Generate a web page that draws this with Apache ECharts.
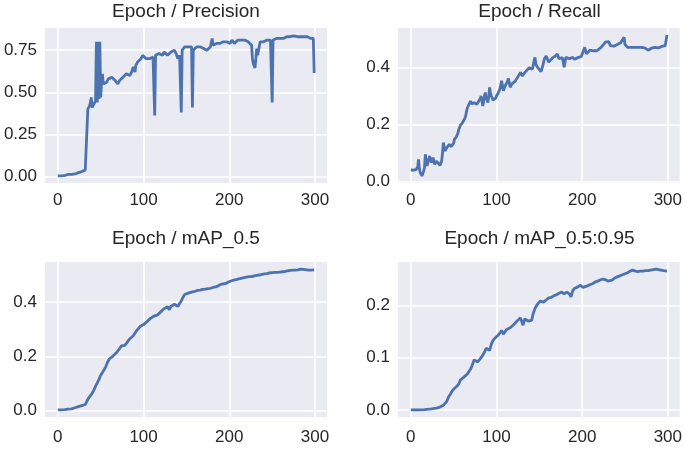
<!DOCTYPE html>
<html>
<head>
<meta charset="utf-8">
<script src="https://cdn.jsdelivr.net/npm/echarts@6/dist/echarts.min.js"></script>
<style>
html,body{margin:0;padding:0;background:#fff;}
#c{width:685px;height:450px;}
</style>
</head>
<body>
<div id="c"></div>
<script>
const titles = ['Epoch / Precision', 'Epoch / Recall', 'Epoch / mAP_0.5', 'Epoch / mAP_0.5:0.95'];
const xTicks = [0, 100, 200, 300];
const yTicksPrecision = [0, 0.25, 0.5, 0.75];
const yTicksRecall = [0, 0.2, 0.4];
const yTicksMap50 = [0, 0.2, 0.4];
const yTicksMap5095 = [0, 0.1, 0.2];

const precision = [
[0,0.004],[3,0.005],[6,0.006],[9,0.008],[12,0.013],[14,0.016],[16,0.013],[18,0.012],[20,0.016],[22,0.02],
[24,0.024],[26,0.026],[28,0.03],[30,0.034],[32,0.04],[33,0.047],[34,0.05],[35,0.40],[36,0.41],[37,0.42],
[38,0.44],[39,0.47],[40,0.41],[41,0.42],[42,0.43],[43,0.42],[44,0.45],[45,0.80],[46,0.44],[47,0.80],
[48,0.46],[49,0.80],[50,0.47],[51,0.56],[52,0.61],[53,0.55],[54,0.54],[55,0.56],[57,0.56],[59,0.58],
[61,0.58],[63,0.59],[65,0.60],[67,0.57],[69,0.56],[70,0.55],[72,0.57],[74,0.58],[76,0.59],[78,0.60],
[80,0.61],[82,0.62],[84,0.60],[86,0.62],[88,0.65],[90,0.62],[91,0.66],[93,0.68],[95,0.67],[97,0.70],
[99,0.72],[101,0.71],[103,0.70],[105,0.69],[107,0.70],[109,0.70],[111,0.71],[112,0.70],[113,0.363],[114,0.72],
[116,0.72],[118,0.73],[120,0.73],[122,0.72],[124,0.74],[126,0.73],[128,0.72],[130,0.73],[132,0.74],[134,0.74],
[136,0.75],[138,0.73],[140,0.70],[142,0.72],[143,0.73],[144,0.38],[145,0.75],[146,0.76],[148,0.77],[150,0.78],
[152,0.77],[154,0.78],[156,0.77],[157,0.41],[158,0.75],[160,0.76],[162,0.77],[164,0.76],[166,0.77],[168,0.76],
[170,0.76],[172,0.77],[174,0.75],[176,0.76],[178,0.77],[180,0.82],[181,0.78],[183,0.79],[185,0.79],[187,0.80],
[189,0.79],[191,0.80],[193,0.80],[195,0.79],[197,0.80],[199,0.80],[201,0.79],[203,0.81],[204,0.82],[206,0.79],
[208,0.80],[210,0.81],[212,0.80],[214,0.81],[216,0.80],[218,0.81],[220,0.80],[222,0.80],[224,0.80],[226,0.78],
[227,0.70],[228,0.67],[229,0.66],[230,0.645],[231,0.635],[232,0.76],[233,0.72],[234,0.73],[236,0.80],[238,0.79],
[240,0.80],[242,0.80],[244,0.81],[246,0.80],[248,0.81],[249,0.80],[250,0.44],[251,0.81],[253,0.81],[255,0.82],
[257,0.81],[259,0.82],[261,0.82],[263,0.82],[265,0.82],[267,0.83],[269,0.82],[271,0.83],[273,0.83],[275,0.835],
[277,0.84],[279,0.83],[281,0.835],[283,0.83],[285,0.83],[287,0.83],[289,0.83],[291,0.83],[293,0.83],[295,0.82],
[297,0.82],[298,0.82],[299,0.615]
];

const recall = [
[0,0.041],[1,0.038],[2,0.046],[3,0.040],[4,0.036],[5,0.034],[6,0.042],[7,0.043],[8,0.050],[9,0.078],
[10,0.045],[11,0.032],[12,0.030],[13,0.020],[14,0.028],[15,0.037],[16,0.050],[17,0.096],[18,0.070],[19,0.055],
[20,0.068],[21,0.080],[22,0.090],[23,0.075],[24,0.067],[25,0.072],[26,0.084],[27,0.070],[28,0.061],[29,0.066],
[30,0.072],[31,0.078],[32,0.065],[33,0.060],[34,0.057],[35,0.064],[36,0.072],[37,0.100],[38,0.137],[39,0.120],
[40,0.108],[41,0.112],[42,0.119],[43,0.115],[44,0.125],[45,0.131],[46,0.126],[47,0.122],[48,0.128],[49,0.125],
[50,0.135],[51,0.149],[52,0.150],[53,0.156],[54,0.160],[55,0.170],[56,0.183],[57,0.190],[58,0.198],[59,0.202],
[60,0.205],[61,0.207],[62,0.215],[63,0.222],[64,0.230],[65,0.245],[66,0.258],[67,0.265],[68,0.272],[69,0.277],
[70,0.282],[71,0.272],[72,0.275],[73,0.268],[74,0.276],[75,0.270],[76,0.278],[77,0.271],[78,0.276],[79,0.280],
[80,0.283],[81,0.290],[82,0.300],[83,0.284],[84,0.265],[85,0.280],[86,0.300],[87,0.312],[88,0.295],[89,0.285],
[90,0.277],[91,0.300],[92,0.330],[93,0.310],[94,0.300],[95,0.295],[96,0.285],[97,0.290],[98,0.283],[99,0.292],
[100,0.300],[102,0.310],[104,0.324],[106,0.353],[108,0.318],[110,0.335],[112,0.345],[114,0.361],[116,0.330],[118,0.342],
[120,0.345],[122,0.352],[124,0.356],[126,0.372],[128,0.382],[130,0.370],[132,0.376],[134,0.385],[136,0.388],[138,0.398],
[140,0.400],[142,0.394],[144,0.425],[145,0.435],[146,0.410],[148,0.400],[150,0.403],[152,0.385],[154,0.405],[156,0.430],
[158,0.440],[159,0.443],[161,0.418],[163,0.425],[165,0.432],[167,0.437],[169,0.440],[171,0.447],[173,0.430],[175,0.436],
[177,0.434],[179,0.400],[181,0.435],[183,0.432],[185,0.430],[187,0.436],[189,0.435],[191,0.428],[193,0.430],[195,0.434],
[197,0.435],[199,0.438],[201,0.441],[203,0.470],[205,0.447],[207,0.450],[209,0.460],[211,0.464],[213,0.458],[215,0.462],
[217,0.458],[219,0.463],[221,0.467],[223,0.470],[225,0.480],[227,0.488],[229,0.492],[231,0.490],[233,0.476],[235,0.480],
[237,0.474],[239,0.478],[241,0.480],[243,0.482],[245,0.486],[247,0.490],[249,0.505],[250,0.480],[251,0.474],[253,0.470],
[255,0.467],[257,0.470],[259,0.472],[261,0.470],[263,0.468],[265,0.470],[267,0.467],[269,0.470],[271,0.469],[273,0.468],
[275,0.465],[277,0.460],[279,0.466],[281,0.467],[283,0.465],[285,0.470],[287,0.472],[289,0.468],[291,0.474],[293,0.473],
[295,0.476],[297,0.476],[298,0.478],[299,0.513]
];

const map50 = [
[0,0.002],[4,0.002],[8,0.003],[12,0.005],[16,0.006],[20,0.010],[24,0.014],[28,0.018],[30,0.019],[32,0.022],
[34,0.035],[36,0.046],[38,0.055],[40,0.063],[42,0.075],[44,0.090],[46,0.102],[48,0.115],[50,0.130],[52,0.140],
[54,0.150],[56,0.162],[58,0.178],[60,0.190],[62,0.196],[64,0.200],[66,0.205],[68,0.212],[70,0.220],[72,0.228],
[74,0.238],[76,0.242],[78,0.240],[80,0.248],[82,0.255],[84,0.265],[86,0.262],[88,0.276],[90,0.282],[92,0.295],
[94,0.300],[96,0.310],[98,0.313],[100,0.317],[102,0.322],[104,0.328],[106,0.333],[108,0.340],[110,0.342],[112,0.348],
[114,0.350],[116,0.352],[118,0.358],[120,0.364],[122,0.368],[124,0.376],[126,0.380],[128,0.383],[130,0.372],[132,0.385],
[134,0.388],[136,0.392],[138,0.386],[140,0.384],[142,0.395],[144,0.404],[146,0.418],[148,0.428],[150,0.430],[152,0.433],
[154,0.436],[157,0.438],[160,0.440],[163,0.443],[166,0.444],[169,0.447],[172,0.448],[175,0.450],[178,0.451],[181,0.454],
[184,0.456],[187,0.460],[190,0.465],[193,0.467],[196,0.469],[199,0.474],[202,0.478],[205,0.481],[208,0.483],[211,0.486],
[214,0.488],[217,0.490],[220,0.492],[223,0.494],[226,0.494],[229,0.497],[232,0.499],[235,0.500],[238,0.502],[241,0.504],
[244,0.505],[247,0.508],[250,0.509],[253,0.510],[256,0.510],[259,0.511],[262,0.512],[265,0.513],[268,0.515],[271,0.517],
[274,0.518],[277,0.518],[280,0.519],[283,0.522],[286,0.521],[289,0.520],[292,0.518],[295,0.518],[299,0.519]
];

const map5095 = [
[0,0.0005],[8,0.0008],[16,0.001],[24,0.0025],[30,0.004],[34,0.006],[38,0.0095],[40,0.013],[42,0.017],[44,0.025],
[46,0.030],[48,0.036],[50,0.040],[52,0.042],[54,0.046],[56,0.050],[58,0.058],[60,0.061],[62,0.063],[64,0.065],
[66,0.069],[68,0.072],[70,0.079],[72,0.087],[74,0.096],[76,0.096],[78,0.092],[80,0.096],[82,0.100],[84,0.105],
[86,0.111],[88,0.118],[90,0.121],[92,0.114],[94,0.126],[96,0.133],[98,0.137],[100,0.140],[102,0.143],[104,0.146],
[106,0.152],[108,0.145],[110,0.147],[112,0.154],[114,0.156],[116,0.157],[118,0.160],[120,0.163],[122,0.166],[124,0.170],
[126,0.173],[128,0.176],[130,0.175],[131,0.162],[133,0.174],[135,0.175],[137,0.170],[139,0.168],[141,0.171],[143,0.185],
[145,0.194],[147,0.200],[149,0.204],[151,0.208],[153,0.207],[155,0.206],[158,0.210],[161,0.214],[164,0.215],[167,0.218],
[170,0.220],[173,0.223],[176,0.225],[179,0.222],[182,0.225],[185,0.222],[187,0.216],[189,0.228],[191,0.232],[193,0.234],
[195,0.235],[198,0.238],[201,0.234],[203,0.232],[206,0.237],[209,0.239],[212,0.241],[215,0.244],[218,0.246],[221,0.248],
[224,0.250],[227,0.249],[230,0.246],[232,0.244],[235,0.248],[238,0.252],[241,0.254],[244,0.256],[247,0.258],[250,0.260],
[253,0.262],[256,0.265],[259,0.267],[262,0.265],[265,0.264],[268,0.265],[271,0.265],[274,0.266],[277,0.266],[280,0.267],
[283,0.268],[286,0.269],[289,0.268],[292,0.267],[295,0.266],[299,0.265]
];

const seriesData = [precision, recall, map50, map5095];
const yTickSets = [yTicksPrecision, yTicksRecall, yTicksMap50, yTicksMap5095];
const yDecimals = [2, 1, 1, 1];

function lim(data) {
  let lo = Infinity, hi = -Infinity;
  data.forEach(p => { lo = Math.min(lo, p[1]); hi = Math.max(hi, p[1]); });
  const m = (hi - lo) * 0.05;
  return [lo - m, hi + m];
}

const grids = [
  {left: 45, top: 28, width: 282, height: 155},
  {left: 398, top: 28, width: 283, height: 155},
  {left: 45, top: 262, width: 282, height: 155},
  {left: 398, top: 262, width: 283, height: 155}
];
const titleTops = [2, 2, 229, 229];
const xLabelMargins = [9, 9, 12, 12];

const FONT = "'Liberation Sans', Arial, sans-serif";
const TXT = '#262626';

const option = {
  animation: false,
  backgroundColor: '#ffffff',
  title: grids.map((g, i) => ({
    text: titles[i],
    left: g.left + g.width / 2,
    top: titleTops[i],
    textAlign: 'center',
    padding: 0,
    textStyle: {fontFamily: FONT, fontSize: 19, fontWeight: 'normal', color: TXT}
  })),
  grid: grids.map(g => Object.assign({show: true, backgroundColor: '#EAEAF2', borderWidth: 0}, g)),
  xAxis: grids.map((g, i) => ({
    type: 'value', gridIndex: i, min: -14.95, max: 313.95,
    axisLine: {show: false},
    axisTick: {show: false, customValues: xTicks},
    axisLabel: {customValues: xTicks, fontFamily: FONT, fontSize: 17, color: TXT, margin: xLabelMargins[i],
      formatter: v => String(Math.round(v))},
    splitLine: {show: true, lineStyle: {color: '#ffffff', width: 1.6}}
  })),
  yAxis: grids.map((g, i) => {
    const l = lim(seriesData[i]);
    return {
      type: 'value', gridIndex: i, min: l[0], max: l[1],
      axisLine: {show: false},
      axisTick: {show: false, customValues: yTickSets[i]},
      axisLabel: {customValues: yTickSets[i], fontFamily: FONT, fontSize: 17, color: TXT, margin: 8,
        formatter: v => v.toFixed(yDecimals[i])},
      splitLine: {show: true, lineStyle: {color: '#ffffff', width: 1.6}}
    };
  }),
  series: seriesData.map((d, i) => ({
    type: 'line', xAxisIndex: i, yAxisIndex: i, data: d,
    showSymbol: false, symbol: 'none',
    lineStyle: {color: '#4C72B0', width: 2.8},
    clip: true
  }))
};

const chart = echarts.init(document.getElementById('c'), null, {renderer: 'canvas'});
chart.setOption(option);
</script>
</body>
</html>
